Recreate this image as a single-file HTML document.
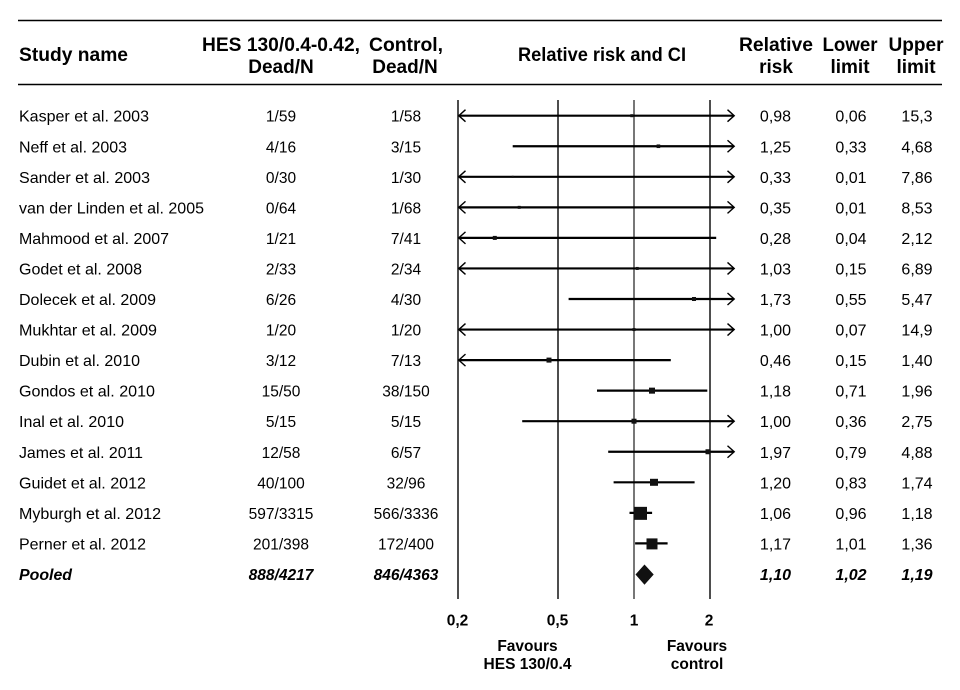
<!DOCTYPE html>
<html>
<head>
<meta charset="utf-8">
<style>
html,body{margin:0;padding:0;background:#fff;}
svg{display:block;}
text{font-family:"Liberation Sans",Arial,sans-serif;fill:#000;}
.h{font-weight:bold;font-size:19px;}
.d{font-size:15.5px;}
.r{font-size:16px;}
.n{font-size:16px;}
.p{font-weight:bold;font-style:italic;font-size:15.5px;}
.t{font-weight:bold;font-size:15.5px;}
</style>
</head>
<body>
<svg width="960" height="690" viewBox="0 0 960 690" xmlns="http://www.w3.org/2000/svg">
<line x1="18" y1="20.5" x2="942" y2="20.5" stroke="#000" stroke-width="1.5"/>
<line x1="18" y1="84.5" x2="942" y2="84.5" stroke="#000" stroke-width="1.5"/>

<text class="h" x="19" y="61" textLength="109" lengthAdjust="spacingAndGlyphs">Study name</text>
<text class="h" x="281" y="51" text-anchor="middle" textLength="158" lengthAdjust="spacingAndGlyphs">HES 130/0.4-0.42,</text>
<text class="h" x="281" y="73" text-anchor="middle">Dead/N</text>
<text class="h" x="406" y="51" text-anchor="middle" textLength="74" lengthAdjust="spacingAndGlyphs">Control,</text>
<text class="h" x="405" y="73" text-anchor="middle">Dead/N</text>
<text class="h" x="602" y="61" text-anchor="middle" textLength="168" lengthAdjust="spacingAndGlyphs">Relative risk and CI</text>
<text class="h" x="776" y="51" text-anchor="middle" textLength="74" lengthAdjust="spacingAndGlyphs">Relative</text>
<text class="h" x="776" y="73" text-anchor="middle">risk</text>
<text class="h" x="850" y="51" text-anchor="middle" textLength="55" lengthAdjust="spacingAndGlyphs">Lower</text>
<text class="h" x="850" y="73" text-anchor="middle">limit</text>
<text class="h" x="916" y="51" text-anchor="middle" textLength="55" lengthAdjust="spacingAndGlyphs">Upper</text>
<text class="h" x="916" y="73" text-anchor="middle">limit</text>

<line x1="458" y1="100" x2="458" y2="599" stroke="#222" stroke-width="1.6"/>
<line x1="558" y1="100" x2="558" y2="599" stroke="#222" stroke-width="1.6"/>
<line x1="634" y1="100" x2="634" y2="599" stroke="#555" stroke-width="1.6"/>
<line x1="710" y1="100" x2="710" y2="599" stroke="#222" stroke-width="1.6"/>

<text class="t" x="457.5" y="625.5" text-anchor="middle">0,2</text>
<text class="t" x="557.5" y="625.5" text-anchor="middle">0,5</text>
<text class="t" x="634" y="625.5" text-anchor="middle">1</text>
<text class="t" x="709" y="625.5" text-anchor="middle">2</text>
<text class="t" x="527.5" y="651" text-anchor="middle">Favours</text>
<text class="t" x="527.5" y="669" text-anchor="middle">HES 130/0.4</text>
<text class="t" x="697" y="651" text-anchor="middle">Favours</text>
<text class="t" x="697" y="669" text-anchor="middle">control</text>

<g stroke="#000" stroke-width="2.2" fill="none">
<line x1="458.5" y1="115.7" x2="733.5" y2="115.7"/>
<line x1="512.7" y1="146.25" x2="733.5" y2="146.25"/>
<line x1="458.5" y1="176.8" x2="733.5" y2="176.8"/>
<line x1="458.5" y1="207.35" x2="733.5" y2="207.35"/>
<line x1="458.5" y1="237.9" x2="716.2" y2="237.9"/>
<line x1="458.5" y1="268.45" x2="733.5" y2="268.45"/>
<line x1="568.6" y1="299" x2="733.5" y2="299"/>
<line x1="458.5" y1="329.55" x2="733.5" y2="329.55"/>
<line x1="458.5" y1="360.1" x2="670.8" y2="360.1"/>
<line x1="597" y1="390.65" x2="707.3" y2="390.65"/>
<line x1="522.2" y1="421.2" x2="733.5" y2="421.2"/>
<line x1="608.2" y1="451.75" x2="733.5" y2="451.75"/>
<line x1="613.6" y1="482.3" x2="694.6" y2="482.3"/>
<line x1="629.5" y1="512.85" x2="652.1" y2="512.85"/>
<line x1="635.1" y1="543.4" x2="667.6" y2="543.4"/>
</g>

<g stroke="#000" stroke-width="1.4" fill="none">
<path d="M465.5,109.7 L458.8,115.7 L465.5,121.7"/>
<path d="M465.5,170.8 L458.8,176.8 L465.5,182.8"/>
<path d="M465.5,201.35 L458.8,207.35 L465.5,213.35"/>
<path d="M465.5,231.9 L458.8,237.9 L465.5,243.9"/>
<path d="M465.5,262.45 L458.8,268.45 L465.5,274.45"/>
<path d="M465.5,323.55 L458.8,329.55 L465.5,335.55"/>
<path d="M465.5,354.1 L458.8,360.1 L465.5,366.1"/>
<path d="M727.5,109.7 L734.2,115.7 L727.5,121.7"/>
<path d="M727.5,140.25 L734.2,146.25 L727.5,152.25"/>
<path d="M727.5,170.8 L734.2,176.8 L727.5,182.8"/>
<path d="M727.5,201.35 L734.2,207.35 L727.5,213.35"/>
<path d="M727.5,262.45 L734.2,268.45 L727.5,274.45"/>
<path d="M727.5,293 L734.2,299 L727.5,305"/>
<path d="M727.5,323.55 L734.2,329.55 L727.5,335.55"/>
<path d="M727.5,415.2 L734.2,421.2 L727.5,427.2"/>
<path d="M727.5,445.75 L734.2,451.75 L727.5,457.75"/>
</g>

<g fill="#111">
<rect x="630.3" y="114.2" width="3" height="3"/>
<rect x="656.6" y="144.45" width="3.6" height="3.6"/>
<rect x="511.7" y="175.8" width="2" height="2"/>
<rect x="517.7" y="205.85" width="3" height="3"/>
<rect x="492.8" y="235.9" width="4" height="4"/>
<rect x="635.7" y="266.95" width="3" height="3"/>
<rect x="692" y="297" width="4" height="4"/>
<rect x="632.5" y="328.05" width="3" height="3"/>
<rect x="546.5" y="357.6" width="5" height="5"/>
<rect x="649" y="387.65" width="6" height="6"/>
<rect x="631.5" y="418.7" width="5" height="5"/>
<rect x="705.5" y="449.25" width="5" height="5"/>
<rect x="650" y="478.8" width="8" height="7"/>
<rect x="634" y="506.85" width="13" height="13"/>
<rect x="646.5" y="538.4" width="11" height="11"/>
<path d="M644.5,564.5 L653.7,574.5 L644.5,584.7 L635.5,574.5 Z"/>
</g>

<g class="n">
<text x="19" y="121.7" textLength="130" lengthAdjust="spacingAndGlyphs">Kasper et al. 2003</text>
<text x="19" y="152.25" textLength="108" lengthAdjust="spacingAndGlyphs">Neff et al. 2003</text>
<text x="19" y="182.8" textLength="131" lengthAdjust="spacingAndGlyphs">Sander et al. 2003</text>
<text x="19" y="213.35" textLength="185" lengthAdjust="spacingAndGlyphs">van der Linden et al. 2005</text>
<text x="19" y="243.9" textLength="150" lengthAdjust="spacingAndGlyphs">Mahmood et al. 2007</text>
<text x="19" y="274.45" textLength="123" lengthAdjust="spacingAndGlyphs">Godet et al. 2008</text>
<text x="19" y="305" textLength="137" lengthAdjust="spacingAndGlyphs">Dolecek et al. 2009</text>
<text x="19" y="335.55" textLength="138" lengthAdjust="spacingAndGlyphs">Mukhtar et al. 2009</text>
<text x="19" y="366.1" textLength="121" lengthAdjust="spacingAndGlyphs">Dubin et al. 2010</text>
<text x="19" y="396.65" textLength="136" lengthAdjust="spacingAndGlyphs">Gondos et al. 2010</text>
<text x="19" y="427.2" textLength="105" lengthAdjust="spacingAndGlyphs">Inal et al. 2010</text>
<text x="19" y="457.75" textLength="124" lengthAdjust="spacingAndGlyphs">James et al. 2011</text>
<text x="19" y="488.3" textLength="127" lengthAdjust="spacingAndGlyphs">Guidet et al. 2012</text>
<text x="19" y="518.85" textLength="142" lengthAdjust="spacingAndGlyphs">Myburgh et al. 2012</text>
<text x="19" y="549.4" textLength="127" lengthAdjust="spacingAndGlyphs">Perner et al. 2012</text>
</g>
<text class="p" x="19" y="579.95" style="font-size:16px" textLength="53" lengthAdjust="spacingAndGlyphs">Pooled</text>

<g class="d" text-anchor="middle">
<text x="281" y="121.7">1/59</text><text x="406" y="121.7">1/58</text>
<text x="281" y="152.25">4/16</text><text x="406" y="152.25">3/15</text>
<text x="281" y="182.8">0/30</text><text x="406" y="182.8">1/30</text>
<text x="281" y="213.35">0/64</text><text x="406" y="213.35">1/68</text>
<text x="281" y="243.9">1/21</text><text x="406" y="243.9">7/41</text>
<text x="281" y="274.45">2/33</text><text x="406" y="274.45">2/34</text>
<text x="281" y="305">6/26</text><text x="406" y="305">4/30</text>
<text x="281" y="335.55">1/20</text><text x="406" y="335.55">1/20</text>
<text x="281" y="366.1">3/12</text><text x="406" y="366.1">7/13</text>
<text x="281" y="396.65">15/50</text><text x="406" y="396.65">38/150</text>
<text x="281" y="427.2">5/15</text><text x="406" y="427.2">5/15</text>
<text x="281" y="457.75">12/58</text><text x="406" y="457.75">6/57</text>
<text x="281" y="488.3">40/100</text><text x="406" y="488.3">32/96</text>
<text x="281" y="518.85">597/3315</text><text x="406" y="518.85">566/3336</text>
<text x="281" y="549.4">201/398</text><text x="406" y="549.4">172/400</text>
</g>
<g class="p" text-anchor="middle">
<text x="281" y="579.95">888/4217</text><text x="406" y="579.95">846/4363</text>
</g>

<g class="r" text-anchor="middle">
<text x="775.5" y="121.7">0,98</text><text x="851" y="121.7">0,06</text><text x="917" y="121.7">15,3</text>
<text x="775.5" y="152.25">1,25</text><text x="851" y="152.25">0,33</text><text x="917" y="152.25">4,68</text>
<text x="775.5" y="182.8">0,33</text><text x="851" y="182.8">0,01</text><text x="917" y="182.8">7,86</text>
<text x="775.5" y="213.35">0,35</text><text x="851" y="213.35">0,01</text><text x="917" y="213.35">8,53</text>
<text x="775.5" y="243.9">0,28</text><text x="851" y="243.9">0,04</text><text x="917" y="243.9">2,12</text>
<text x="775.5" y="274.45">1,03</text><text x="851" y="274.45">0,15</text><text x="917" y="274.45">6,89</text>
<text x="775.5" y="305">1,73</text><text x="851" y="305">0,55</text><text x="917" y="305">5,47</text>
<text x="775.5" y="335.55">1,00</text><text x="851" y="335.55">0,07</text><text x="917" y="335.55">14,9</text>
<text x="775.5" y="366.1">0,46</text><text x="851" y="366.1">0,15</text><text x="917" y="366.1">1,40</text>
<text x="775.5" y="396.65">1,18</text><text x="851" y="396.65">0,71</text><text x="917" y="396.65">1,96</text>
<text x="775.5" y="427.2">1,00</text><text x="851" y="427.2">0,36</text><text x="917" y="427.2">2,75</text>
<text x="775.5" y="457.75">1,97</text><text x="851" y="457.75">0,79</text><text x="917" y="457.75">4,88</text>
<text x="775.5" y="488.3">1,20</text><text x="851" y="488.3">0,83</text><text x="917" y="488.3">1,74</text>
<text x="775.5" y="518.85">1,06</text><text x="851" y="518.85">0,96</text><text x="917" y="518.85">1,18</text>
<text x="775.5" y="549.4">1,17</text><text x="851" y="549.4">1,01</text><text x="917" y="549.4">1,36</text>
</g>
<g class="p" text-anchor="middle" style="font-size:16px">
<text x="775.5" y="579.95">1,10</text><text x="851" y="579.95">1,02</text><text x="917" y="579.95">1,19</text>
</g>
</svg>
</body>
</html>
